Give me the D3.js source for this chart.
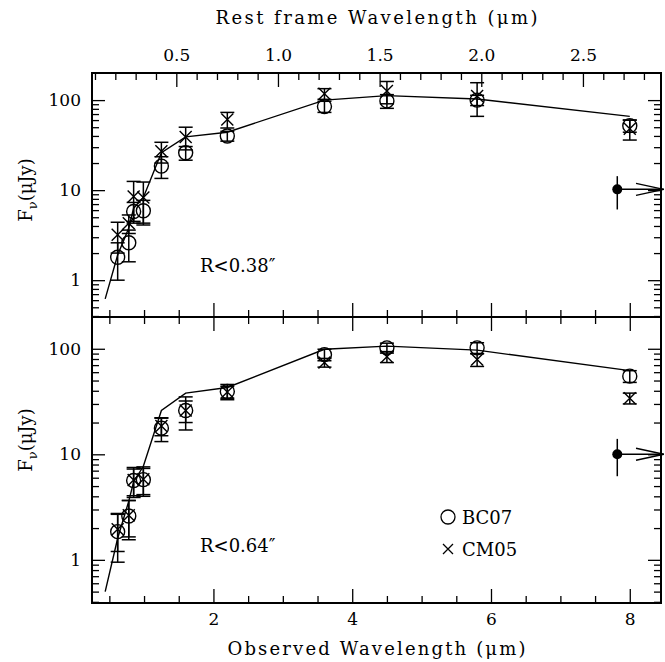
<!DOCTYPE html>
<html>
<head>
<meta charset="utf-8">
<script src="https://cdn.jsdelivr.net/npm/d3@7"></script>
<style>
  body { margin: 0; background: #fff; }
  text { font-family: "DejaVu Serif", serif; fill: #000; }
</style>
</head>
<body>
<script>
// observed wavelengths (micron) of the photometric points
var wave = [0.62, 0.78, 0.85, 0.99, 1.25, 1.6, 2.2, 3.6, 4.5, 5.8, 8.0];

// R<0.38" aperture
var bc07Top    = [1.8, 2.6, 5.8, 5.9, 18.5, 26, 40, 85, 98, 100, 52];
var bc07TopErr = [0.8, 1.0, 1.5, 1.8, 5, 4.5, 5, 12, 17, 13, 8];
var cm05Top    = [3.2, 4.3, 8.5, 8.3, 27, 39, 61, 118, 126, 111, 48];
var cm05TopErr = [1.2, 1.0, 4, 4, 7, 11, 12, 16, 35, 45, 12];

// R<0.64" aperture
var bc07Bot    = [1.85, 2.6, 5.65, 5.75, 17.7, 26, 39.4, 88, 102, 102, 55];
var bc07BotErr = [0.9, 1.05, 1.6, 1.6, 4.5, 6, 6.5, 11, 11, 12, 7];
var cm05Bot    = [1.95, 2.65, 5.7, 5.8, 18.5, 26, 39, 74, 84, 79, 34];
var cm05BotErr = [0.75, 1.0, 1.8, 1.8, 3.5, 9, 5, 7, 10, 11, 4];

// best-fit model curve
var modelWave = [0.44, 0.62, 0.78, 0.85, 0.99, 1.25, 1.6, 2.2, 3.6, 4.5, 5.8, 8.0];
var modelTop  = [0.62, 1.9, 3.8, 6.3, 8.3, 26, 39, 44, 100, 112, 103, 66];
var modelBot  = [0.5, 1.6, 3.6, 5.5, 7.7, 26, 38, 43, 99, 106, 97, 62];

// off-scale (24 micron) point drawn at the right edge with an arrow
var edgeWave = [7.82];
var edgeTop = [10.2], edgeTopLo = [6.1], edgeTopHi = [14.3];
var edgeBot = [10.0], edgeBotLo = [6.2], edgeBotHi = [14.0];

var xMajor = [2, 4, 6, 8];
var restMajor = [0.5, 1.0, 1.5, 2.0, 2.5];
var yMajor = [1, 10, 100];
var onePlusZ = 2.93;

var W = 665, H = 662;
var L = 92, R = 661, T = 73, M = 317, B = 603;

var svg = d3.select("body").append("svg").attr("width", W).attr("height", H);

var x = d3.scaleLinear().domain([0.25, 8.45]).range([L, R]);
var xr = d3.scaleLinear().domain([0.25 / onePlusZ, 8.45 / onePlusZ]).range([L, R]);
var yTop = d3.scaleLog().domain([0.39, 200]).range([M, T]);
var yBot = d3.scaleLog().domain([0.39, 200]).range([B, M]);

var xMinor = d3.range(0.5, 8.5, 0.5).filter(function(d) { return d % 2 !== 0; });
var restMinor = d3.range(1, 29).map(function(d) { return d / 10; }).filter(function(d) { return Math.round(d * 10) % 5 !== 0; });
var yMinor = [];
[0.1, 1, 10, 100].forEach(function(dec) {
  for (var k = 2; k <= 9; k++) {
    var v = k * dec;
    if (v > 0.39 && v < 200) yMinor.push(v);
  }
});

function drawAxis(axis, tx, ty) {
  var g = svg.append("g").attr("transform", "translate(" + tx + "," + ty + ")").call(axis);
  g.select(".domain").remove();
  g.selectAll("line").attr("stroke", "#000").attr("stroke-width", 1.3);
  g.selectAll("text").style("font-family", "DejaVu Serif").style("font-size", "17px").attr("fill", "#000");
  return g;
}
var none = function() { return ""; };

// x ticks on all horizontal borders
drawAxis(d3.axisBottom(x).tickValues(xMajor).tickSize(-14).tickPadding(10).tickFormat(d3.format("d")), 0, B);
drawAxis(d3.axisBottom(x).tickValues(xMinor).tickSize(-7).tickFormat(none), 0, B);
drawAxis(d3.axisTop(x).tickValues(xMajor).tickSize(-14).tickFormat(none), 0, M);
drawAxis(d3.axisTop(x).tickValues(xMinor).tickSize(-7).tickFormat(none), 0, M);
drawAxis(d3.axisBottom(x).tickValues(xMajor).tickSize(-14).tickFormat(none), 0, M);
drawAxis(d3.axisBottom(x).tickValues(xMinor).tickSize(-7).tickFormat(none), 0, M);
drawAxis(d3.axisTop(xr).tickValues(restMajor).tickSize(-14).tickPadding(12).tickFormat(d3.format(".1f")), 0, T);
drawAxis(d3.axisTop(xr).tickValues(restMinor).tickSize(-7).tickFormat(none), 0, T);

// y ticks, both panels
[yTop, yBot].forEach(function(y) {
  drawAxis(d3.axisLeft(y).tickValues(yMajor).tickSize(-13).tickPadding(11).tickFormat(d3.format("d")), L, 0);
  drawAxis(d3.axisLeft(y).tickValues(yMinor).tickSize(-7).tickFormat(none), L, 0);
  drawAxis(d3.axisRight(y).tickValues(yMajor).tickSize(-13).tickFormat(none), R, 0);
  drawAxis(d3.axisRight(y).tickValues(yMinor).tickSize(-7).tickFormat(none), R, 0);
});

// frames
svg.append("rect").attr("x", L).attr("y", T).attr("width", R - L).attr("height", M - T)
  .attr("fill", "none").attr("stroke", "#000").attr("stroke-width", 2);
svg.append("rect").attr("x", L).attr("y", M).attr("width", R - L).attr("height", B - M)
  .attr("fill", "none").attr("stroke", "#000").attr("stroke-width", 2);

function panel(y, bc, bcErr, cm, cmErr, model, edge, edgeLo, edgeHi, label) {
  var g = svg.append("g");
  var line = d3.line().x(function(d) { return x(d[0]); }).y(function(d) { return y(d[1]); });
  g.append("path").datum(d3.zip(modelWave, model)).attr("d", line)
    .attr("fill", "none").attr("stroke", "#000").attr("stroke-width", 1.4);

  function errBars(vals, errs) {
    var d = d3.zip(wave, vals, errs);
    var eg = g.append("g").attr("stroke", "#000").attr("stroke-width", 1.5);
    eg.selectAll(".v").data(d).enter().append("line")
      .attr("x1", function(p) { return x(p[0]); }).attr("x2", function(p) { return x(p[0]); })
      .attr("y1", function(p) { return y(p[1] - p[2]); }).attr("y2", function(p) { return y(p[1] + p[2]); });
    ["-", "+"].forEach(function(s) {
      eg.selectAll(".c" + (s === "+" ? "p" : "m")).data(d).enter().append("line")
        .attr("x1", function(p) { return x(p[0]) - 7; }).attr("x2", function(p) { return x(p[0]) + 7; })
        .attr("y1", function(p) { return y(s === "+" ? p[1] + p[2] : p[1] - p[2]); })
        .attr("y2", function(p) { return y(s === "+" ? p[1] + p[2] : p[1] - p[2]); });
    });
  }
  errBars(bc, bcErr);
  errBars(cm, cmErr);

  g.selectAll(".bc").data(d3.zip(wave, bc)).enter().append("circle")
    .attr("cx", function(p) { return x(p[0]); }).attr("cy", function(p) { return y(p[1]); })
    .attr("r", 7).attr("fill", "none").attr("stroke", "#000").attr("stroke-width", 1.4);

  var cg = g.append("g").attr("stroke", "#000").attr("stroke-width", 1.4);
  cg.selectAll(".cm").data(d3.zip(wave, cm)).enter().append("path")
    .attr("d", function(p) {
      var cx = x(p[0]), cy = y(p[1]), s = 6;
      return "M" + (cx - s) + "," + (cy - s) + "L" + (cx + s) + "," + (cy + s) +
             "M" + (cx - s) + "," + (cy + s) + "L" + (cx + s) + "," + (cy - s);
    });

  // off-scale point with arrow
  var ed = d3.zip(edgeWave, edge, edgeLo, edgeHi);
  var ag = g.append("g").attr("stroke", "#000").attr("stroke-width", 1.5).attr("fill", "none");
  ag.selectAll(".ev").data(ed).enter().append("line")
    .attr("x1", function(p) { return x(p[0]); }).attr("x2", function(p) { return x(p[0]); })
    .attr("y1", function(p) { return y(p[2]); }).attr("y2", function(p) { return y(p[3]); });
  ag.selectAll(".eh").data(ed).enter().append("line")
    .attr("x1", function(p) { return x(p[0]); }).attr("x2", x(8.49))
    .attr("y1", function(p) { return y(p[1]); }).attr("y2", function(p) { return y(p[1]); });
  ag.selectAll(".head").data(ed).enter().append("path")
    .attr("d", function(p) {
      var yy = y(p[1]);
      return "M" + x(8.09) + "," + (yy - 6) + "L" + x(8.49) + "," + yy + "L" + x(8.09) + "," + (yy + 6);
    });
  g.selectAll(".edot").data(ed).enter().append("circle")
    .attr("cx", function(p) { return x(p[0]); }).attr("cy", function(p) { return y(p[1]); })
    .attr("r", 5).attr("fill", "#000");

  g.append("text").attr("x", 200).attr("y", y(1) - 8).attr("font-size", 18).text(label);
}

panel(yTop, bc07Top, bc07TopErr, cm05Top, cm05TopErr, modelTop, edgeTop, edgeTopLo, edgeTopHi, "R<0.38\u2033");
panel(yBot, bc07Bot, bc07BotErr, cm05Bot, cm05BotErr, modelBot, edgeBot, edgeBotLo, edgeBotHi, "R<0.64\u2033");

// legend
svg.append("circle").attr("cx", 448).attr("cy", 517).attr("r", 7)
  .attr("fill", "none").attr("stroke", "#000").attr("stroke-width", 1.3);
svg.append("text").attr("x", 462).attr("y", 524).attr("font-size", 18).text("BC07");
svg.append("path").attr("d", "M443,544L453,554M443,554L453,544").attr("stroke", "#000").attr("stroke-width", 1.3);
svg.append("text").attr("x", 462).attr("y", 556).attr("font-size", 18).text("CM05");

// axis titles
svg.append("text").attr("x", (L + R) / 2).attr("y", 655).attr("text-anchor", "middle")
  .attr("font-size", 18).attr("textLength", 298).attr("lengthAdjust", "spacing")
  .text("Observed Wavelength (\u03bcm)");
svg.append("text").attr("x", (L + R) / 2).attr("y", 24).attr("text-anchor", "middle")
  .attr("font-size", 18).attr("textLength", 322).attr("lengthAdjust", "spacing")
  .text("Rest frame Wavelength (\u03bcm)");

function yTitle(cy) {
  var t = svg.append("text").attr("transform", "translate(32," + cy + ") rotate(-90)")
    .attr("text-anchor", "middle").attr("font-size", 18);
  t.append("tspan").text("F");
  t.append("tspan").attr("font-size", 13).attr("dy", 5).text("\u03bd");
  t.append("tspan").attr("dy", -5).text("(\u03bcJy)");
}
yTitle(190);
yTitle(440);
</script>
</body>
</html>
